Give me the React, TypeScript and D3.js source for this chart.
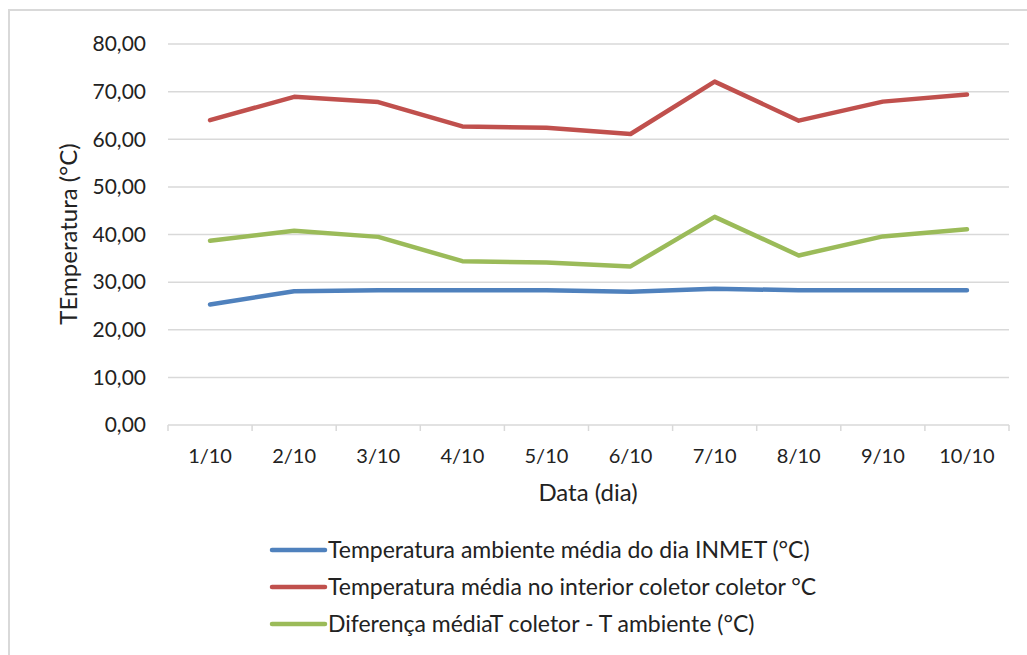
import React from "react";
import * as d3 from "d3";

const categories = ["1/10", "2/10", "3/10", "4/10", "5/10", "6/10", "7/10", "8/10", "9/10", "10/10"];
const ambiente = [25.3, 28.1, 28.3, 28.3, 28.3, 28.0, 28.6, 28.3, 28.3, 28.3];
const coletor = [64.0, 68.9, 67.8, 62.7, 62.4, 61.1, 72.1, 63.9, 67.9, 69.4];
const diferenca = [38.7, 40.8, 39.5, 34.4, 34.1, 33.3, 43.7, 35.6, 39.6, 41.1];
const yTicks = [0, 10, 20, 30, 40, 50, 60, 70, 80];

const seriesNames = [
  "Temperatura ambiente média do dia INMET (°C)",
  "Temperatura média no interior coletor coletor °C",
  "Diferença médiaT coletor - T ambiente (°C)",
];
const seriesColors = ["#4F81BD", "#C0504D", "#9BBB59"];
const seriesData = [ambiente, coletor, diferenca];

const FONT = "Lato, 'Open Sans', sans-serif";

export default function App() {
  const W = 1027, H = 655;
  const left = 168, right = 1009, top = 44, bottom = 425;
  const x = d3.scaleBand<string>().domain(categories).range([left, right]).padding(0);
  const y = d3.scaleLinear().domain([0, 80]).range([bottom, top]);
  const cx = (c: string) => (x(c) as number) + x.bandwidth() / 2;
  const line = d3
    .line<number>()
    .x((_, i) => cx(categories[i]))
    .y((d) => y(d));
  const fmt = (v: number) => v.toFixed(2).replace(".", ",");
  const boundaries = categories.map((c) => x(c) as number).concat([right]);

  return (
    <svg width={W} height={H} style={{ position: "absolute", left: 0, top: 0, background: "#fff" }}>
      <rect x={0} y={0} width={W} height={H} fill="#fff" />
      <rect x={9} y={10} width={W + 20} height={H + 20} fill="none" stroke="#d9d9d9" strokeWidth={2} />
      {yTicks.map((t) => (
        <g key={t}>
          {t > 0 && (
            <line x1={left} x2={right} y1={y(t)} y2={y(t)} stroke="#d9d9d9" strokeWidth={1.5} />
          )}
          <text x={146} y={y(t)} dy="0.35em" textAnchor="end" fontFamily={FONT} fontSize={21} fill="#222">
            {fmt(t)}
          </text>
        </g>
      ))}
      <line x1={left} x2={right} y1={bottom} y2={bottom} stroke="#d9d9d9" strokeWidth={1.5} />
      {boundaries.map((b, i) => (
        <line key={i} x1={b} x2={b} y1={bottom} y2={bottom + 6} stroke="#d9d9d9" strokeWidth={1.5} />
      ))}
      {categories.map((c) => (
        <text key={c} x={cx(c)} y={463} textAnchor="middle" fontFamily={FONT} fontSize={20} fill="#222">
          {c}
        </text>
      ))}
      <text x={588} y={501} textAnchor="middle" fontFamily={FONT} fontSize={24} fill="#222">
        Data (dia)
      </text>
      <text
        transform={`translate(77, 234) rotate(-90)`}
        textAnchor="middle"
        fontFamily={FONT}
        fontSize={24}
        fill="#222"
      >
        TEmperatura (°C)
      </text>
      {seriesData.map((d, i) => (
        <path
          key={i}
          d={line(d) || ""}
          fill="none"
          stroke={seriesColors[i]}
          strokeWidth={4.5}
          strokeLinejoin="round"
          strokeLinecap="round"
        />
      ))}
      {seriesNames.map((n, i) => {
        const ly = 550 + i * 37;
        return (
          <g key={n}>
            <line x1={272} x2={325} y1={ly} y2={ly} stroke={seriesColors[i]} strokeWidth={4.5} strokeLinecap="round" />
            <text x={328} y={ly} dy="0.35em" fontFamily={FONT} fontSize={23} fill="#222">
              {n}
            </text>
          </g>
        );
      })}
    </svg>
  );
}
